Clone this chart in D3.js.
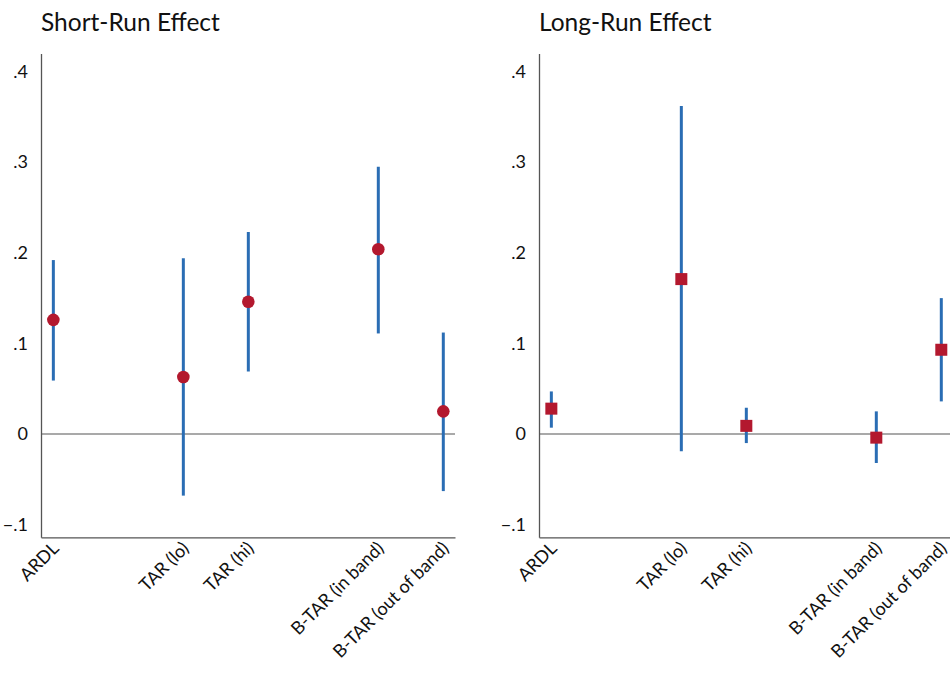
<!DOCTYPE html>
<html>
<head>
<meta charset="utf-8">
<script src="https://cdn.jsdelivr.net/npm/d3@7"></script>
<style>
  body { margin: 0; background: #fff; }
  svg { display: block; font-family: Lato, "Open Sans", sans-serif; }
</style>
</head>
<body>
<svg id="chart" width="950" height="673"></svg>
<script>
// categories and their slot on the x axis
const models = ['ARDL', 'TAR (lo)', 'TAR (hi)', 'B-TAR (in band)', 'B-TAR (out of band)'];
const slots = [1, 3, 4, 6, 7];
const yTicks = [-0.1, 0, 0.1, 0.2, 0.3, 0.4];

// short-run estimates with CI bounds
const shortEst = [0.126, 0.063, 0.146, 0.204, 0.025];
const shortLo = [0.059, -0.068, 0.069, 0.111, -0.063];
const shortHi = [0.192, 0.194, 0.223, 0.295, 0.112];

// long-run estimates with CI bounds
const longEst = [0.028, 0.171, 0.009, -0.004, 0.093];
const longLo = [0.007, -0.019, -0.010, -0.032, 0.036];
const longHi = [0.047, 0.362, 0.029, 0.025, 0.150];

const svg = d3.select('#chart');
const blue = '#2a6db4';
const red = '#b3182e';
const axisGrey = '#555';

function panel(left, title, est, lo, hi, shape) {
  const w = 414;
  const top = 53.5, bottom = 537.3;
  const g = svg.append('g').attr('transform', `translate(${left},0)`);

  const x = d3.scaleLinear().domain([0.81, 7.18]).range([0, w]);
  const y = d3.scaleLinear().domain([-0.114, 0.42]).range([bottom, top]);

  g.append('text')
    .attr('x', 0).attr('y', 31)
    .attr('font-size', 24.5)
    .attr('fill', '#111')
    .text(title);

  // y axis: labels only, no tick marks
  const yAxis = g.append('g').call(
    d3.axisLeft(y).tickValues(yTicks).tickSize(0).tickPadding(13)
      .tickFormat(d => d === 0 ? '0' : d3.format('.1f')(d).replace('0.', '.'))
  );
  yAxis.select('.domain').attr('stroke', axisGrey).attr('stroke-width', 1.3);
  yAxis.selectAll('text').attr('font-size', 18).attr('fill', '#111')
    .attr('font-family', 'Lato, sans-serif');

  // x axis, labels slanted
  const xAxis = g.append('g').attr('transform', `translate(0,${bottom})`).call(
    d3.axisBottom(x).tickValues(slots).tickSize(0).tickPadding(8)
      .tickFormat((d, i) => models[i])
  );
  xAxis.select('.domain').attr('stroke', axisGrey).attr('stroke-width', 1.3);
  xAxis.selectAll('text')
    .attr('font-size', 18).attr('fill', '#111')
    .attr('font-family', 'Lato, sans-serif')
    .attr('text-anchor', 'end')
    .attr('dy', '0.35em')
    .attr('transform', 'translate(-4,2) rotate(-45)');

  // zero line
  g.append('line')
    .attr('x1', 0).attr('x2', w)
    .attr('y1', y(0)).attr('y2', y(0))
    .attr('stroke', axisGrey).attr('stroke-width', 1.2);

  const rows = models.map((m, i) => ({ s: slots[i], est: est[i], lo: lo[i], hi: hi[i] }));

  g.selectAll('line.ci').data(rows).join('line')
    .attr('class', 'ci')
    .attr('x1', d => x(d.s)).attr('x2', d => x(d.s))
    .attr('y1', d => y(d.lo)).attr('y2', d => y(d.hi))
    .attr('stroke', blue).attr('stroke-width', 3);

  if (shape === 'circle') {
    g.selectAll('circle.pt').data(rows).join('circle')
      .attr('class', 'pt')
      .attr('cx', d => x(d.s)).attr('cy', d => y(d.est))
      .attr('r', 6.3).attr('fill', red);
  } else {
    g.selectAll('rect.pt').data(rows).join('rect')
      .attr('class', 'pt')
      .attr('x', d => x(d.s) - 6).attr('y', d => y(d.est) - 6)
      .attr('width', 12).attr('height', 12).attr('fill', red);
  }
}

panel(41, 'Short-Run Effect', shortEst, shortLo, shortHi, 'circle');
panel(539, 'Long-Run Effect', longEst, longLo, longHi, 'square');
</script>
</body>
</html>
